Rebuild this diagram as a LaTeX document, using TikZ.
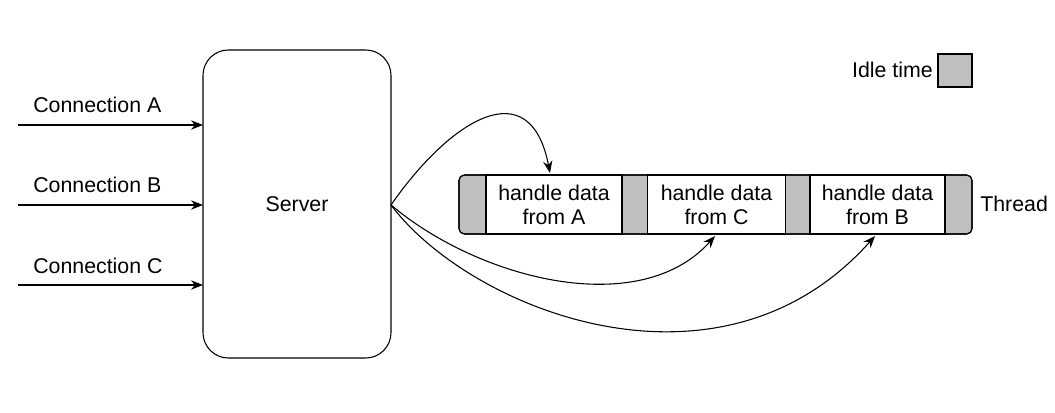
\documentclass[tikz,border=0pt]{standalone}
\usepackage{fontspec}
\setmainfont{Liberation Sans}
\usetikzlibrary{arrows.meta}
\begin{document}
\begin{tikzpicture}[x=0.75pt,y=-0.75pt,
  lbl/.style={font=\fontsize{16}{18}\selectfont, inner sep=0pt},
  arr/.style={-{Stealth[length=9pt,width=7pt]}, line width=0.8pt},
  idle/.style={fill=black!25, draw=black, line width=0.8pt},
  cell/.style={draw=black, line width=0.8pt, minimum height=44.25pt, inner sep=0pt, align=center, font=\fontsize{16}{18}\selectfont}]
\useasboundingbox (0,0) rectangle (1055,413);
\node[draw, line width=0.8pt, rounded corners=19pt, minimum width=141pt, minimum height=231pt, lbl] (srv) at (297,204) {Server};
\foreach \n/\y in {A/125,B/205,C/285}{
  \coordinate (s\n) at (18,\y);
  \coordinate (e\n) at (203,\y);
  \draw[arr] (s\n) -- (e\n);
  \node[lbl, anchor=base west] (l\n) at (33,\y-12) {Connection \n};
}
% thread
\draw[line width=0.8pt, fill=black!25, rounded corners=4pt] (459,175) rectangle (972,234);
\node[cell, fill=white, minimum width=102pt] (cA) at (554,204.5) {handle data\\from A};
\node[cell, fill=white, minimum width=103.5pt] (cC) at (716.5,204.5) {handle data\\from C};
\node[cell, fill=white, minimum width=101.25pt] (cB) at (877.5,204.5) {handle data\\from B};
\draw[line width=0.8pt, rounded corners=4pt] (459,175) rectangle (972,234);
\node[lbl, anchor=west] (thr) at (980,204) {Thread};
% legend
\node[idle, minimum width=25.5pt, minimum height=24.75pt, inner sep=0pt] (leg) at (955,70.5) {};
\node[lbl, anchor=east] (idl) at (933,70) {Idle time};
% curves
\coordinate (o) at (391,205);
\coordinate (tA) at (550,173);
\coordinate (tC) at (715,236);
\coordinate (tB) at (875,236);
\draw[arr] (o) .. controls (450,120) and (530,70) .. (tA);
\draw[arr] (o) .. controls (480,280) and (640,320) .. (tC);
\draw[arr] (o) .. controls (470,310) and (720,410) .. (tB);
\end{tikzpicture}
\end{document}
